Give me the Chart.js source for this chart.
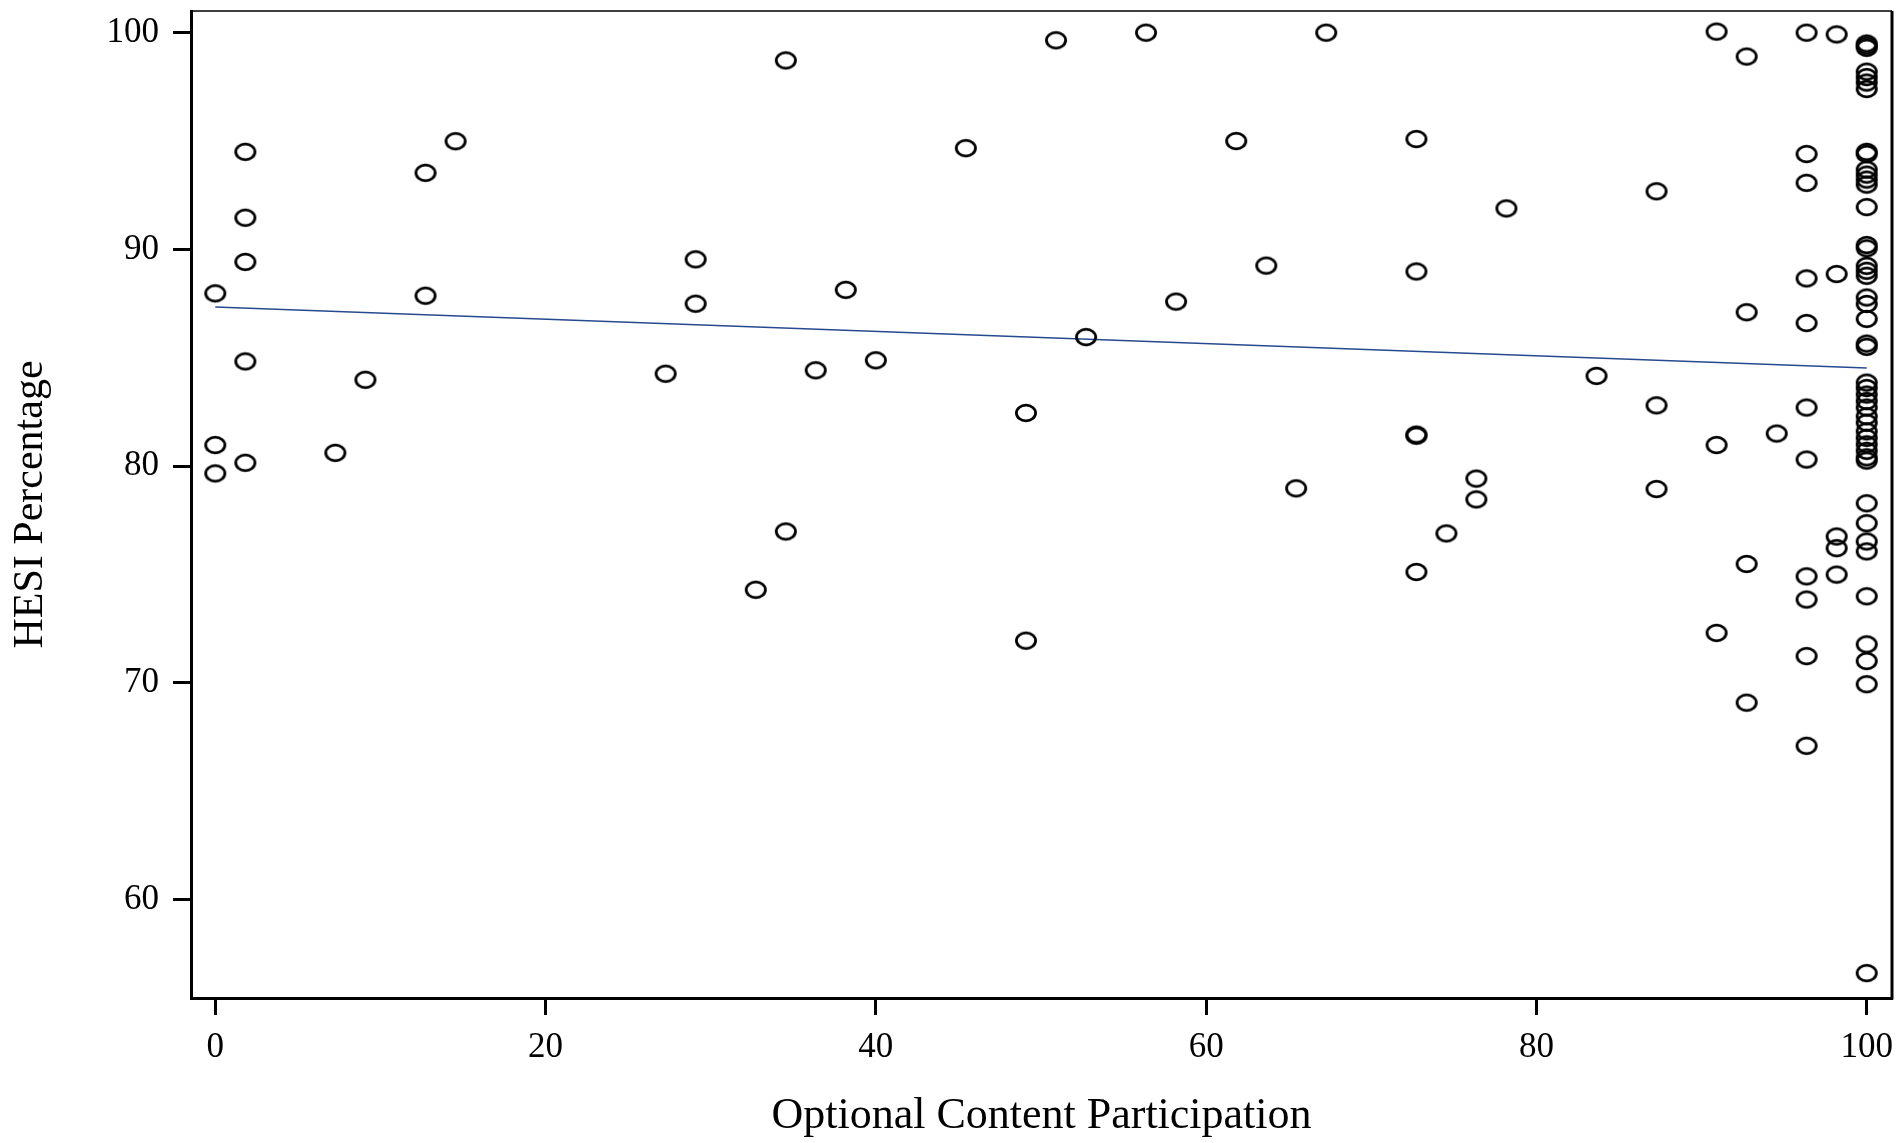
<!DOCTYPE html>
<html>
<head>
<meta charset="utf-8">
<title>HESI Percentage vs Optional Content Participation</title>
<script src="https://cdn.jsdelivr.net/npm/chart.js@4.4.1/dist/chart.umd.min.js"></script>
<style>
  html, body { margin: 0; padding: 0; background: #fff; }
  #wrap { width: 1903px; height: 1143px; }
</style>
</head>
<body>
<div id="wrap"><canvas id="scatter" width="1903" height="1143"></canvas></div>
<script>
// one entry per student, x = optional content participation, y = HESI %
var participation = [
  0, 0, 0,
  1.82, 1.82, 1.82, 1.82, 1.82,
  7.27, 9.09, 12.73, 12.73, 14.55,
  27.27, 29.09, 29.09, 32.73, 34.55, 34.55, 36.36, 38.18, 40.00,
  45.45, 49.09, 49.09, 50.91, 52.73, 56.36, 58.18, 61.82, 63.64, 65.45, 67.27,
  72.73, 72.73, 72.73, 72.73, 72.73, 74.55, 76.36, 76.36, 78.18, 83.64,
  87.27, 87.27, 87.27,
  90.91, 90.91, 90.91,
  92.73, 92.73, 92.73, 92.73,
  94.55,
  96.36, 96.36, 96.36, 96.36, 96.36, 96.36, 96.36, 96.36, 96.36, 96.36, 96.36,
  98.18, 98.18, 98.18, 98.18, 98.18,
  100, 100, 100, 100, 100, 100, 100, 100, 100, 100,
  100, 100, 100, 100, 100, 100, 100, 100, 100, 100,
  100, 100, 100, 100, 100, 100, 100, 100, 100, 100,
  100, 100, 100, 100, 100, 100, 100, 100, 100, 100,
  100, 100, 100, 100, 100, 100
];
var hesi = [
  87.97, 80.97, 79.66,
  94.5, 91.46, 89.42, 84.83, 80.15,
  80.61, 83.98, 93.53, 87.86, 94.99,
  84.26, 89.54, 87.49, 74.29, 98.72, 76.98, 84.42, 88.13, 84.88,
  94.67, 82.45, 71.94, 99.65, 85.95, 100.0, 87.59, 95.0, 89.25, 78.97, 100.0,
  95.09, 88.98, 81.45, 81.4, 75.11, 76.89, 79.42, 78.46, 91.89, 84.16,
  92.68, 82.8, 78.94,
  100.05, 80.97, 72.3,
  98.9, 87.1, 75.48, 69.08,
  81.5,
  100.0, 94.4, 93.07, 88.66, 86.6, 82.7, 80.3, 74.91, 73.84, 71.23, 67.09,
  99.92, 88.86, 76.75, 76.21, 74.99,
  99.5, 99.4, 99.3, 98.2, 97.95, 97.7, 97.4, 94.5, 94.4, 93.68,
  93.45, 93.22, 92.99, 91.95, 90.2, 90.05, 89.24, 89.01, 88.78, 87.78,
  87.48, 86.79, 85.65, 85.5, 83.85, 83.6, 83.3, 83.0, 82.7, 82.3,
  82.0, 81.6, 81.3, 81.0, 80.7, 80.4, 80.25, 78.28, 77.36, 76.52,
  76.06, 73.99, 71.77, 71.0, 69.93, 56.6
];
// fitted regression line end points
var fitX = [0, 100];
var fitY = [87.34, 84.52];

var xTicks = [0, 20, 40, 60, 80, 100];
var yTicks = [60, 70, 80, 90, 100];

var serif = 'Liberation Serif, Times New Roman, serif';

// open oval marker like the original plot
function ring() {
    var c = document.createElement('canvas');
    c.width = 28;
    c.height = 24;
    var g = c.getContext('2d');
    g.lineWidth = 2.8;
    g.strokeStyle = '#000';
    g.beginPath();
    g.ellipse(14, 12, 9.6, 7.8, 0, 0, Math.PI * 2);
    g.stroke();
    return c;
}

var points = [];
for (var i = 0; i < participation.length; i++) {
    points.push({x: participation[i], y: hesi[i]});
}
var fit = [];
for (var j = 0; j < fitX.length; j++) {
    fit.push({x: fitX[j], y: fitY[j]});
}

// top + right sides of the box
var frame = {
    id: 'frame',
    afterDraw: function (chart) {
        var a = chart.chartArea;
        var ctx = chart.ctx;
        ctx.save();
        ctx.strokeStyle = '#000';
        ctx.lineWidth = 1.5;
        ctx.beginPath();
        ctx.moveTo(a.left, a.top);
        ctx.lineTo(a.right, a.top);
        ctx.stroke();
        ctx.lineWidth = 3;
        ctx.beginPath();
        ctx.moveTo(a.right, a.top);
        ctx.lineTo(a.right, a.bottom + 1.5);
        ctx.stroke();
        ctx.restore();
    }
};

new Chart(document.getElementById('scatter').getContext('2d'), {
    type: 'scatter',
    data: {
        datasets: [{
            label: 'students',
            data: points,
            pointStyle: ring(),
            pointRadius: 10,
            pointHoverRadius: 10
        }, {
            type: 'line',
            label: 'fit',
            data: fit,
            borderColor: '#27498f',
            borderWidth: 1.5,
            pointRadius: 0,
            fill: false
        }]
    },
    options: {
        responsive: false,
        animation: false,
        events: [],
        layout: {padding: {top: 7, right: 10, left: 0, bottom: 0}},
        plugins: {
            legend: {display: false},
            tooltip: {enabled: false}
        },
        scales: {
            x: {
                type: 'linear',
                min: -1.47,
                max: 101.53,
                afterFit: function (s) {
                    s.height = 145;
                    s.paddingLeft = 0;
                    s.paddingRight = 0;
                },
                afterBuildTicks: function (s) {
                    s.ticks = xTicks.map(function (v) { return {value: v}; });
                },
                grid: {display: true, drawOnChartArea: false, drawTicks: true, tickLength: 17, tickWidth: 3, tickColor: '#000'},
                border: {display: true, color: '#000', width: 3},
                ticks: {color: '#000', font: {family: serif, size: 35}, padding: 12, maxRotation: 0, autoSkip: false},
                title: {
                    display: true,
                    text: 'Optional Content Participation',
                    color: '#000',
                    font: {family: serif, size: 44},
                    padding: {top: 0, bottom: 0}
                }
            },
            y: {
                type: 'linear',
                min: 55.45,
                max: 101.0,
                afterFit: function (s) {
                    s.width = 191;
                    s.paddingTop = 0;
                    s.paddingBottom = 0;
                },
                afterBuildTicks: function (s) {
                    s.ticks = yTicks.map(function (v) { return {value: v}; });
                },
                grid: {display: true, drawOnChartArea: false, drawTicks: true, tickLength: 18, tickWidth: 3, tickColor: '#000'},
                border: {display: true, color: '#000', width: 3},
                ticks: {color: '#000', font: {family: serif, size: 35}, padding: 14, autoSkip: false},
                title: {
                    display: true,
                    text: 'HESI Percentage',
                    color: '#000',
                    font: {family: serif, size: 42},
                    padding: {top: 6, bottom: 0}
                }
            }
        }
    },
    plugins: [frame]
});
</script>
</body>
</html>
